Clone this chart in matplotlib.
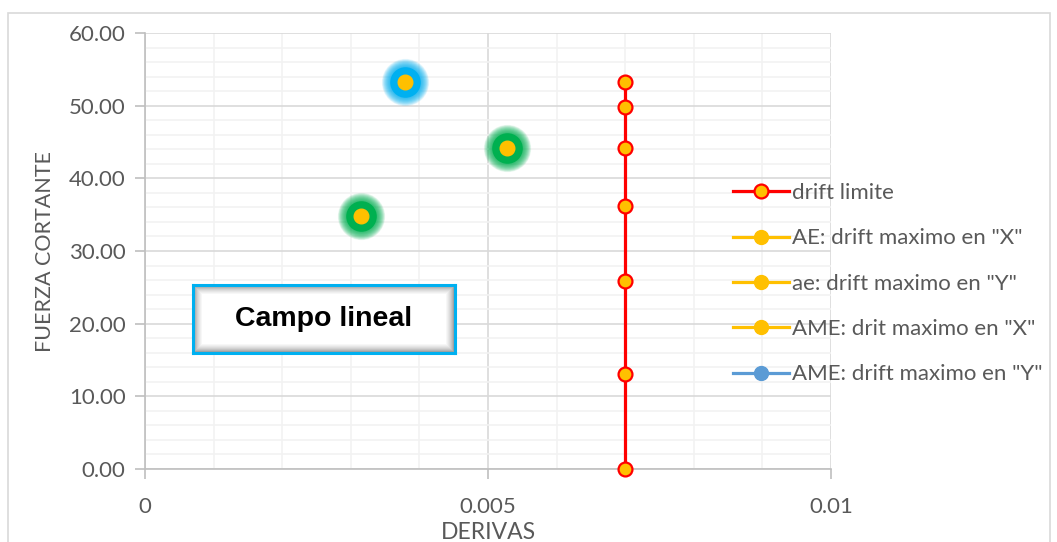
import numpy as np
import matplotlib.pyplot as plt
from matplotlib.patches import Rectangle
from matplotlib.lines import Line2D
from matplotlib.ticker import MultipleLocator, FuncFormatter

plt.rcParams['font.family'] = ['Lato', 'DejaVu Sans']

# ---- data ----
limite_x = [0.007, 0.007, 0.007, 0.007, 0.007, 0.007, 0.007]
limite_y = [0.00, 13.07, 25.87, 36.19, 44.17, 49.80, 53.25]

ae_x_deriva = [0.00528]
ae_x_cortante = [44.17]
ae_y_deriva = [0.00315]
ae_y_cortante = [34.80]
ame_x_deriva = [0.00379]
ame_x_cortante = [53.25]
ame_y_deriva = []
ame_y_cortante = []

labels = ['drift limite', 'AE: drift maximo en "X"', 'ae: drift maximo en "Y"',
          'AME: drit maximo en "X"', 'AME: drift maximo en "Y"']

GRIS = '#595959'
ROJO = '#FF0000'
AMARILLO = '#FFC000'
AZUL = '#5B9BD5'
VERDE_BRILLO = '#00B050'
AZUL_BRILLO = '#00B0F0'

fig = plt.figure(figsize=(10.57, 5.42), dpi=100)
fig.patches.append(Rectangle((8 / 1057, -0.05), 1042 / 1057, 1.0 - 13 / 542 + 0.05,
                             transform=fig.transFigure, fill=False,
                             edgecolor='#D9D9D9', lw=1.2))

ax = fig.add_axes([145 / 1057, (542 - 469) / 542, 686 / 1057, 436 / 542])
ax.set_xlim(0, 0.01)
ax.set_ylim(0, 60)
ax.xaxis.set_major_locator(MultipleLocator(0.005))
ax.xaxis.set_minor_locator(MultipleLocator(0.001))
ax.yaxis.set_major_locator(MultipleLocator(10))
ax.yaxis.set_minor_locator(MultipleLocator(2))
ax.xaxis.set_major_formatter(FuncFormatter(lambda v, p: '0' if v == 0 else ('%g' % round(v, 4))))
ax.yaxis.set_major_formatter(FuncFormatter(lambda v, p: '%.2f' % v))

ax.grid(True, which='major', color='#D9D9D9', lw=1.2)
ax.grid(True, which='minor', color='#F2F2F2', lw=1.2)
ax.set_axisbelow(True)
for s in ['top', 'right']:
    ax.spines[s].set_visible(False)
for s in ['left', 'bottom']:
    ax.spines[s].set_color('#BFBFBF')
    ax.spines[s].set_linewidth(1.2)
ax.tick_params(which='major', direction='out', length=7, color='#BFBFBF', width=1.2,
               labelsize=16, labelcolor=GRIS, pad=7)
ax.tick_params(axis='x', pad=13)
ax.tick_params(which='minor', length=0)

ax.set_xlabel('DERIVAS', fontsize=16.5, color=GRIS, labelpad=4)
ax.set_ylabel('FUERZA CORTANTE', fontsize=15.5, color=GRIS, labelpad=10)


# soft glow behind a point
def brillo(x, y, color):
    for ms in np.linspace(34, 22, 16):
        ax.plot(x, y, 'o', ms=ms, color=color, alpha=0.09, mec='none', zorder=3)
    ax.plot(x, y, 'o', ms=22, color=color, mec='none', zorder=3)


brillo(ae_x_deriva, ae_x_cortante, VERDE_BRILLO)
brillo(ae_y_deriva, ae_y_cortante, VERDE_BRILLO)
brillo(ame_x_deriva, ame_x_cortante, AZUL_BRILLO)

ax.plot(limite_x, limite_y, '-o', color=ROJO, lw=2.3, ms=10, mfc=AMARILLO,
        mec=ROJO, mew=1.6, zorder=5, clip_on=False)
ax.plot(ae_x_deriva, ae_x_cortante, 'o', ms=10.5, color=AMARILLO, zorder=5)
ax.plot(ae_y_deriva, ae_y_cortante, 'o', ms=10.5, color=AMARILLO, zorder=5)
ax.plot(ame_x_deriva, ame_x_cortante, 'o', ms=10.5, color=AMARILLO, zorder=5)
ax.plot(ame_y_deriva, ame_y_cortante, 'o', ms=10.5, color=AZUL, zorder=5)

handles = [
    Line2D([], [], color=ROJO, lw=2.3, marker='o', ms=10, mfc=AMARILLO, mec=ROJO, mew=1.6),
    Line2D([], [], color=AMARILLO, lw=2.3, marker='o', ms=10),
    Line2D([], [], color=AMARILLO, lw=2.3, marker='o', ms=10),
    Line2D([], [], color=AMARILLO, lw=2.3, marker='o', ms=10),
    Line2D([], [], color=AZUL, lw=2.3, marker='o', ms=10),
]
leg = fig.legend(handles, labels, loc='upper left', bbox_to_anchor=(733 / 1057, 1 - 183 / 542),
                 frameon=False, fontsize=16, handlelength=2.5, handletextpad=0.15,
                 labelspacing=1.14, borderpad=0, borderaxespad=0)
for t in leg.get_texts():
    t.set_color(GRIS)

# "Campo lineal" box with inner shadow
caja = fig.add_axes([193 / 1057, (542 - 353) / 542, 262 / 1057, 68 / 542])
w, h = 262, 68
xx, yy = np.meshgrid(np.arange(w), np.arange(h))
d = np.minimum(np.minimum(xx, w - 1 - xx), np.minimum(yy, h - 1 - yy)).astype(float)
sombra = np.clip(d / 9.0, 0, 1)
gris = 0.45 + 0.55 * np.sqrt(sombra)
caja.imshow(gris, cmap='gray', vmin=0, vmax=1, aspect='auto', interpolation='bilinear')
caja.set_xticks([])
caja.set_yticks([])
for s in caja.spines.values():
    s.set_color(AZUL_BRILLO)
    s.set_linewidth(2.2)
caja.text(0.5, 0.5, 'Campo lineal', transform=caja.transAxes, ha='center', va='center',
          fontsize=20.5, fontweight='bold', family=['Liberation Sans', 'DejaVu Sans'],
          color='black')

fig.savefig('out.png', dpi=100)
